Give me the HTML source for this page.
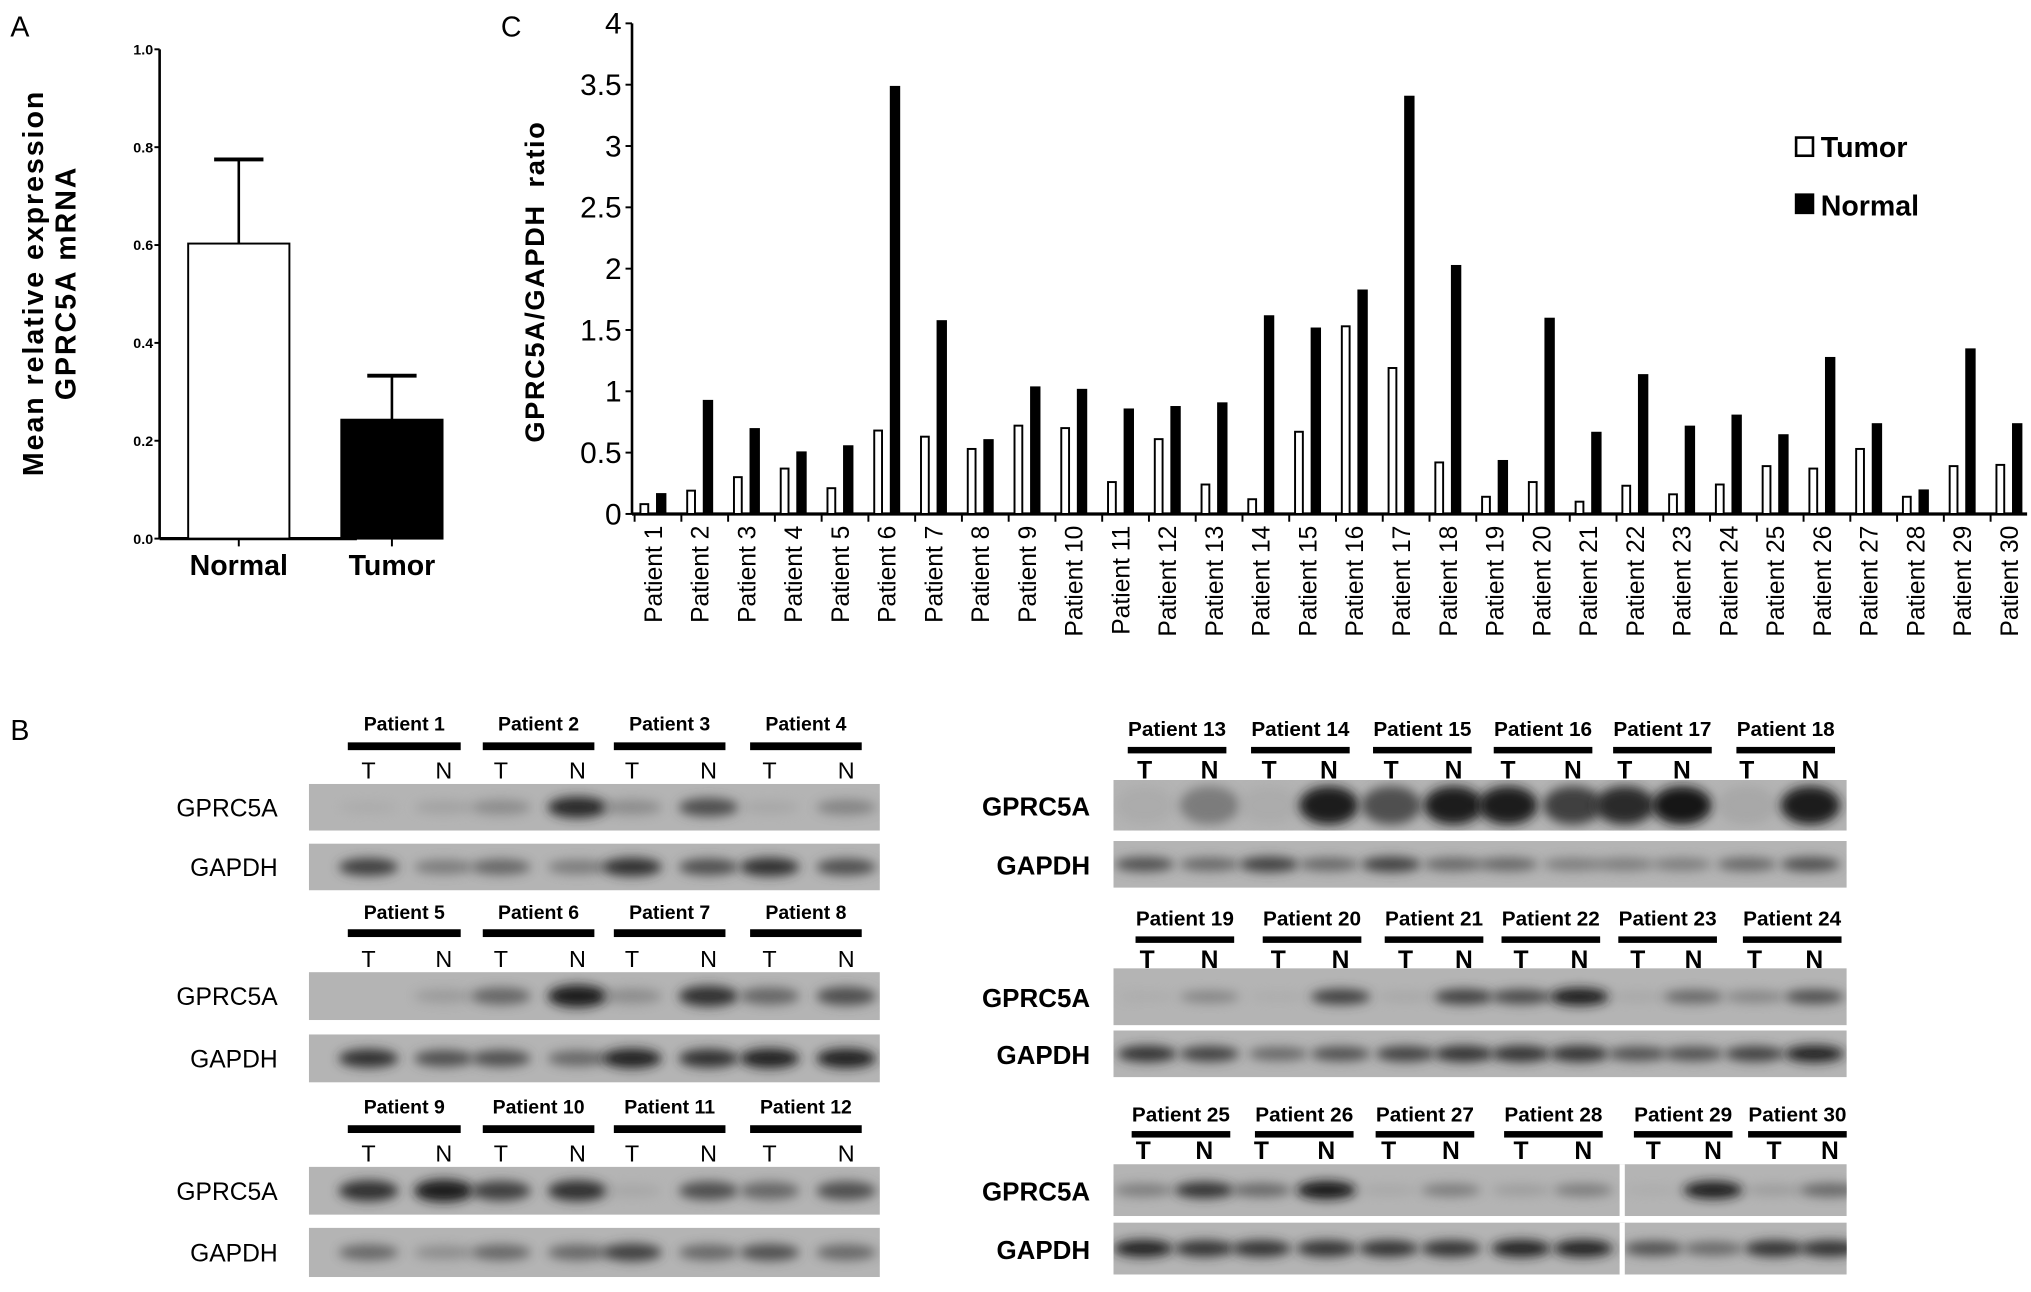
<!DOCTYPE html>
<html><head><meta charset="utf-8">
<style>
html,body{margin:0;padding:0;background:#fff;}
svg{display:block;font-family:"Liberation Sans",Arial,sans-serif;}
</style></head>
<body>
<svg id="fig" width="2031" height="1292" viewBox="0 0 1565 995.5" preserveAspectRatio="none" xmlns="http://www.w3.org/2000/svg">
<defs>
<filter id="blur" x="-50%" y="-100%" width="200%" height="300%"><feGaussianBlur stdDeviation="4"/></filter>
</defs>
<text x="8" y="28" font-size="22">A</text>
<text x="386" y="28" font-size="22">C</text>
<text x="8" y="570" font-size="22">B</text>
<g id="gA"></g>
<g id="gC"></g>
<g id="gB"></g>
</svg>
<script>
// ---- Panel A data ----
const aCategories = ["Normal", "Tumor"];
const aValues = [0.603, 0.243];
const aErrors = [0.775, 0.333];
const aTicks = [0.0, 0.2, 0.4, 0.6, 0.8, 1.0];
// ---- Panel C data ----
const cPatients = ["Patient 1","Patient 2","Patient 3","Patient 4","Patient 5","Patient 6","Patient 7","Patient 8","Patient 9","Patient 10","Patient 11","Patient 12","Patient 13","Patient 14","Patient 15","Patient 16","Patient 17","Patient 18","Patient 19","Patient 20","Patient 21","Patient 22","Patient 23","Patient 24","Patient 25","Patient 26","Patient 27","Patient 28","Patient 29","Patient 30"];
const cTumor = [0.08,0.19,0.30,0.37,0.21,0.68,0.63,0.53,0.72,0.70,0.26,0.61,0.24,0.12,0.67,1.53,1.19,0.42,0.14,0.26,0.10,0.23,0.16,0.24,0.39,0.37,0.53,0.14,0.39,0.40];
const cNormal = [0.17,0.93,0.70,0.51,0.56,3.49,1.58,0.61,1.04,1.02,0.86,0.88,0.91,1.62,1.52,1.83,3.41,2.03,0.44,1.60,0.67,1.14,0.72,0.81,0.65,1.28,0.74,0.20,1.35,0.74];
const cTickLabels = ["0","0.5","1","1.5","2","2.5","3","3.5","4"];
const cTickValues = [0,0.5,1,1.5,2,2.5,3,3.5,4];

const NS = "http://www.w3.org/2000/svg";
function mk(tag, attrs, parent, txt){
  const e = document.createElementNS(NS, tag);
  for (const k in attrs) e.setAttribute(k, attrs[k]);
  if (txt !== undefined) e.textContent = txt;
  parent.appendChild(e);
  return e;
}

// ---------- Panel A ----------
(function(){
  const g = document.getElementById("gA");
  const x0 = 123, y0 = 415, yTop = 38;
  const yA = v => y0 - (v / 1.0) * (y0 - yTop);
  const xCenters = [184, 302];
  const bw = 78;
  let e = mk("line", {x1:x0,y1:yTop,x2:x0,y2:y0,stroke:"#000","stroke-width":2}, g);
  
  
  e = mk("line", {x1:x0,y1:y0,x2:275,y2:y0,stroke:"#000","stroke-width":2.5}, g);
  
  
  aTicks.forEach(t => {
    mk("line", {x1:x0-4,y1:yA(t),x2:x0,y2:yA(t),stroke:"#000","stroke-width":1.5}, g);
    const tl = mk("text", {x:x0-5,y:yA(t)+4,"font-size":11,"font-weight":"bold","text-anchor":"end"}, g, t.toFixed(1));
    
    
  });
  aCategories.forEach((c, i) => {
    const xc = xCenters[i];
    const r = mk("rect", {x:xc-bw/2,y:yA(aValues[i]),width:bw,height:y0-yA(aValues[i]),fill:i===0?"#fff":"#000",stroke:"#000","stroke-width":1.5}, g);
    
    
    const el = mk("line", {x1:xc,y1:yA(aValues[i]),x2:xc,y2:yA(aErrors[i]),stroke:"#000","stroke-width":2}, g);
    
    
    mk("line", {x1:xc-19,y1:yA(aErrors[i]),x2:xc+19,y2:yA(aErrors[i]),stroke:"#000","stroke-width":3}, g);
    mk("line", {x1:xc,y1:y0,x2:xc,y2:y0+6,stroke:"#000","stroke-width":1.5}, g);
    const lab = mk("text", {x:xc,y:443,"font-size":22,"font-weight":"bold","text-anchor":"middle"}, g, c);
    
    
  });
  const t1 = mk("text", {transform:"translate(33,218) rotate(-90)","font-size":22,"font-weight":"bold","text-anchor":"middle","letter-spacing":"1.5"}, g, "Mean relative expression");
  
  
  mk("text", {transform:"translate(58,218) rotate(-90)","font-size":22,"font-weight":"bold","text-anchor":"middle","letter-spacing":"1.5"}, g, "GPRC5A mRNA");
})();

// ---------- Panel C ----------
(function(){
  const g = document.getElementById("gC");
  const x0 = 487, y0 = 396, yTop = 18;
  const yC = v => y0 - (v / 4) * (y0 - yTop);
  const xC = i => 503 + i * 36.03;
  let e = mk("line", {x1:x0,y1:yTop,x2:x0,y2:y0,stroke:"#000","stroke-width":2}, g);
  
  
  e = mk("line", {x1:x0,y1:y0,x2:1562,y2:y0,stroke:"#000","stroke-width":2.5}, g);
  
  
  cTickValues.forEach((t, k) => {
    mk("line", {x1:x0-5,y1:yC(t),x2:x0,y2:yC(t),stroke:"#000","stroke-width":1.5}, g);
    const tl = mk("text", {x:x0-8,y:yC(t)+8,"font-size":23,"text-anchor":"end"}, g, cTickLabels[k]);
    
    
  });
  cPatients.forEach((p, i) => {
    const xc = xC(i);
    const rt = mk("rect", {x:xc-9.5,y:yC(cTumor[i]),width:6,height:y0-yC(cTumor[i]),fill:"#fff",stroke:"#000","stroke-width":1.5}, g);
    
    
    const rn = mk("rect", {x:xc+2.5,y:yC(cNormal[i]),width:8,height:y0-yC(cNormal[i]),fill:"#000"}, g);
    
    
    mk("line", {x1:xc-14,y1:y0,x2:xc-14,y2:y0+6,stroke:"#000","stroke-width":1.5}, g);
    const lab = mk("text", {transform:"translate("+(xc+7)+",405) rotate(-90)","font-size":19,"text-anchor":"end"}, g, p);
    
    
  });
  const t = mk("text", {transform:"translate(419,217) rotate(-90)","font-size":21,"font-weight":"bold","text-anchor":"middle","letter-spacing":"1.2","word-spacing":"6"}, g, "GPRC5A/GAPDH ratio");
  
  
  const l1 = mk("rect", {x:1384,y:106,width:13,height:14,fill:"#fff",stroke:"#000","stroke-width":2}, g);
  
  
  const lt1 = mk("text", {x:1403,y:121,"font-size":22,"font-weight":"bold"}, g, "Tumor");
  
  
  const l2 = mk("rect", {x:1383,y:149,width:15,height:16,fill:"#000"}, g);
  
  
  const lt2 = mk("text", {x:1403,y:166,"font-size":22,"font-weight":"bold"}, g, "Normal");
  
  
})();

// ---------- Panel B (western blots) ----------
(function(){
  const g = document.getElementById("gB");
  const leftPanels = [
    {names:["Patient 1","Patient 2","Patient 3","Patient 4"], ly:563, by:575, ty:600, gy:604, gh:36, hy:650, hh:36,
     g1:[0.05,0.15,0.3,0.85,0.3,0.6,0.1,0.35], g2:[0.7,0.4,0.5,0.4,0.8,0.6,0.8,0.6]},
    {names:["Patient 5","Patient 6","Patient 7","Patient 8"], ly:708, by:719, ty:745, gy:749, gh:37, hy:797, hh:37,
     g1:[0,0.2,0.5,0.95,0.3,0.8,0.5,0.6], g2:[0.8,0.6,0.6,0.5,0.9,0.8,0.9,0.9]},
    {names:["Patient 9","Patient 10","Patient 11","Patient 12"], ly:858, by:870, ty:895, gy:899, gh:37, hy:946, hh:38,
     g1:[0.8,0.95,0.7,0.8,0.1,0.6,0.5,0.6], g2:[0.5,0.3,0.5,0.5,0.7,0.5,0.6,0.5]}
  ];
  const leftLanes = [284,342,386,445,487,546,593,652];
  const leftBars = [[268,355],[372,458],[473,559],[578,664]];
  const rightPanels = [
    {names:["Patient 13","Patient 14","Patient 15","Patient 16","Patient 17","Patient 18"], centers:[907,1002,1096,1189,1281,1376],
     lanes:[882,932,978,1024,1072,1120,1162,1212,1252,1296,1346,1395], ly:567, by:578, ty:600, gy:601, gh:39, hy:648, hh:36, tall:true,
     g1:[0.05,0.4,0.05,0.95,0.6,0.95,0.95,0.7,0.85,1,0.1,0.95], g2:[0.6,0.5,0.7,0.5,0.7,0.5,0.5,0.4,0.4,0.4,0.5,0.6]},
    {names:["Patient 19","Patient 20","Patient 21","Patient 22","Patient 23","Patient 24"], centers:[913,1011,1105,1195,1285,1381],
     lanes:[884,932,985,1033,1083,1128,1172,1217,1262,1305,1352,1398], ly:713, by:724, ty:746, gy:746, gh:44, hy:794, hh:36,
     g1:[0.05,0.35,0.05,0.7,0.1,0.7,0.65,0.95,0.1,0.5,0.35,0.6], g2:[0.8,0.7,0.5,0.6,0.7,0.8,0.8,0.8,0.6,0.6,0.7,0.9]},
    {names:["Patient 25","Patient 26","Patient 27","Patient 28","Patient 29","Patient 30"], centers:[910,1005,1098,1197,1297,1385],
     lanes:[881,928,972,1022,1070,1118,1172,1220,1274,1320,1367,1410], ly:864, by:874, ty:893, gy:897, gh:40, hy:942, hh:40, split:true,
     g1:[0.4,0.8,0.5,1,0.1,0.4,0.2,0.4,0.05,0.95,0.2,0.5], g2:[0.9,0.8,0.8,0.8,0.8,0.8,0.9,0.9,0.6,0.5,0.8,0.8]}
  ];

  function blot(x, y, w, h, lanes, vals, bandH, name, tall, split){
    const s = mk("svg", {x:x,y:y,width:w,height:h,overflow:"hidden"}, g);
    
    
    mk("rect", {x:0,y:0,width:w,height:h,fill:"#b4b4b4"}, s);
    lanes.forEach((lx, i) => {
      const v = vals[i];
      if (v <= 0) return;
      const gray = Math.round(170 - v * 150);
      mk("ellipse", {cx:lx-x, cy:h/2, rx:23, ry:tall ? h*0.38 : bandH*(0.5+v*0.5), fill:"rgb("+gray+","+gray+","+gray+")", opacity:Math.min(1,0.4+v), filter:"url(#blur)"}, s);
    });
    if (split) mk("rect", {x:1248-x,y:0,width:4,height:h,fill:"#fff"}, s);
  }

  leftPanels.forEach((p, k) => {
    p.names.forEach((n, i) => {
      const cx = (leftBars[i][0] + leftBars[i][1]) / 2;
      const t = mk("text", {x:cx,y:p.ly,"font-size":15,"font-weight":"bold","text-anchor":"middle"}, g, n);
      
      
      mk("rect", {x:leftBars[i][0],y:p.by-3,width:leftBars[i][1]-leftBars[i][0],height:6,fill:"#000"}, g);
    });
    leftLanes.forEach((lx, i) => {
      mk("text", {x:lx,y:p.ty,"font-size":18,"text-anchor":"middle"}, g, i % 2 === 0 ? "T" : "N");
    });
    const a = mk("text", {x:214,y:p.gy+p.gh/2+7,"font-size":19,"text-anchor":"end"}, g, "GPRC5A");
    
    
    blot(238, p.gy, 440, p.gh, leftLanes, p.g1, 9, 'gprc5a-blot-left-' + (k+1));
    const b = mk("text", {x:214,y:p.hy+p.hh/2+7,"font-size":19,"text-anchor":"end"}, g, "GAPDH");
    
    
    blot(238, p.hy, 440, p.hh, leftLanes, p.g2, 8, 'gapdh-blot-left-' + (k+1));
  });

  rightPanels.forEach((p, k) => {
    p.names.forEach((n, i) => {
      const t = mk("text", {x:p.centers[i],y:p.ly,"font-size":16,"font-weight":"bold","text-anchor":"middle"}, g, n);
      
      
      mk("rect", {x:p.centers[i]-38,y:p.by-2.5,width:76,height:5,fill:"#000"}, g);
    });
    p.lanes.forEach((lx, i) => {
      mk("text", {x:lx,y:p.ty,"font-size":19,"font-weight":"bold","text-anchor":"middle"}, g, i % 2 === 0 ? "T" : "N");
    });
    const a = mk("text", {x:840,y:p.gy+p.gh/2+8,"font-size":20,"font-weight":"bold","text-anchor":"end"}, g, "GPRC5A");
    
    
    blot(858, p.gy, 565, p.gh, p.lanes, p.g1, 7, 'gprc5a-blot-right-' + (k+1), p.tall, p.split);
    const b = mk("text", {x:840,y:p.hy+p.hh/2+8,"font-size":20,"font-weight":"bold","text-anchor":"end"}, g, "GAPDH");
    
    
    blot(858, p.hy, 565, p.hh, p.lanes, p.g2, 7, 'gapdh-blot-right-' + (k+1), false, p.split);
  });
})();
</script>
</body></html>
